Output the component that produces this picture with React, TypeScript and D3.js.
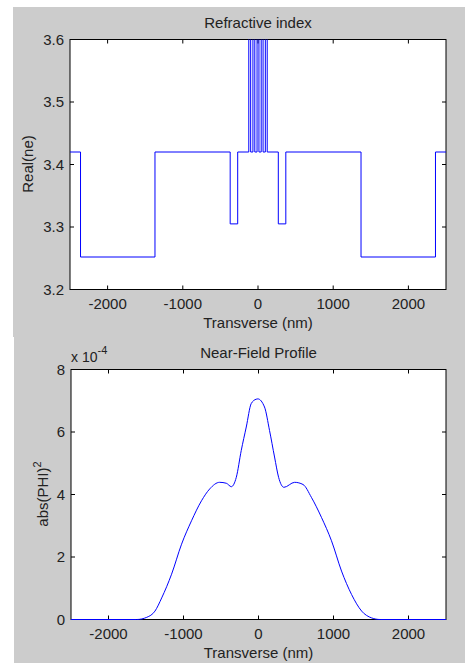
import React, { useRef, useEffect } from 'react';
import * as d3 from 'd3';

// shared x ticks (nm)
const xTicks = [-2000, -1000, 0, 1000, 2000];
const indexTicks = [3.2, 3.3, 3.4, 3.5, 3.6];
const fieldTicks = [0, 2, 4, 6, 8];

// refractive index layers: start position (nm) and value
const layerStart = [-2500, -2360, -1370, -370, -270, -122.5, -97.5, -67.5, -42.5, -12.5, 12.5, 42.5, 67.5, 97.5, 122.5, 270, 370, 1370, 2360, 2500];
const layerIndex = [3.42, 3.252, 3.42, 3.305, 3.42, 3.7, 3.42, 3.7, 3.42, 3.7, 3.42, 3.7, 3.42, 3.7, 3.42, 3.305, 3.42, 3.252, 3.42, 3.42];

// near field |phi|^2 in units of 1e-4
const fieldX = [-2500, -1623, -1490, -1380, -1291, -1159, -1026, -893, -760, -650, -518, -429, -362, -296, -230, -163, -97, -31, -9, 80, 147, 214, 268, 339, 482, 594, 705, 839, 973, 1107, 1241, 1375, 1509, 1621, 2500];
const fieldY = [0, 0, 0.07, 0.27, 0.69, 1.45, 2.41, 3.16, 3.8, 4.18, 4.39, 4.36, 4.25, 4.55, 5.41, 6.16, 6.91, 7.05, 7.06, 6.8, 6.05, 5.2, 4.55, 4.23, 4.39, 4.32, 3.91, 3.27, 2.52, 1.55, 0.8, 0.27, 0.05, 0, 0];

const FONT = '"Liberation Sans", Arial, sans-serif';

function drawPanel(svg, opts) {
  const { left, right, top, bottom, yDomain, yTicks, yFmt, title, id, clipPad } = opts;
  const x = d3.scaleLinear().domain([-2500, 2500]).range([left, right]);
  const y = d3.scaleLinear().domain(yDomain).range([bottom, top]);

  svg.append('rect')
    .attr('x', left).attr('y', top)
    .attr('width', right - left).attr('height', bottom - top)
    .attr('fill', '#fff');

  svg.append('clipPath').attr('id', id)
    .append('rect')
    .attr('x', left).attr('y', top)
    .attr('width', right - left).attr('height', bottom - top + clipPad);

  const g = svg.append('g');
  // inward ticks on all four sides
  xTicks.forEach((t) => {
    g.append('line').attr('x1', x(t)).attr('x2', x(t)).attr('y1', bottom).attr('y2', bottom - 4).attr('stroke', '#000');
    g.append('line').attr('x1', x(t)).attr('x2', x(t)).attr('y1', top).attr('y2', top + 4).attr('stroke', '#000');
    g.append('text').attr('x', x(t)).attr('y', bottom + 19)
      .attr('text-anchor', 'middle').attr('font-size', 15).attr('font-family', FONT).attr('fill', '#222')
      .text(t);
  });
  yTicks.forEach((t) => {
    g.append('line').attr('x1', left).attr('x2', left + 4).attr('y1', y(t)).attr('y2', y(t)).attr('stroke', '#000');
    g.append('line').attr('x1', right).attr('x2', right - 4).attr('y1', y(t)).attr('y2', y(t)).attr('stroke', '#000');
    g.append('text').attr('x', left - 6).attr('y', y(t) + 5)
      .attr('text-anchor', 'end').attr('font-size', 15).attr('font-family', FONT).attr('fill', '#222')
      .text(yFmt(t));
  });

  g.append('text').attr('x', (left + right) / 2).attr('y', top - 12)
    .attr('text-anchor', 'middle').attr('font-size', 15).attr('font-family', FONT).attr('fill', '#222')
    .text(title);
  g.append('text').attr('x', (left + right) / 2).attr('y', bottom + 38)
    .attr('text-anchor', 'middle').attr('font-size', 15).attr('font-family', FONT).attr('fill', '#222')
    .text('Transverse (nm)');

  g.append('rect').attr('x', left).attr('y', top).attr('width', right - left).attr('height', bottom - top)
    .attr('fill', 'none').attr('stroke', '#000').attr('stroke-width', 1);

  return { x, y, g };
}

function App() {
  const ref = useRef();

  useEffect(() => {
    const svg = d3.select(ref.current);
    svg.selectAll('*').remove();

    svg.append('rect').attr('x', 13).attr('y', 7).attr('width', 452).attr('height', 330).attr('fill', '#cccccc');
    svg.append('rect').attr('x', 14).attr('y', 337).attr('width', 451).attr('height', 326).attr('fill', '#cccccc');

    // top: refractive index
    const p1 = drawPanel(svg, {
      left: 70, right: 446, top: 39.5, bottom: 289.5,
      yDomain: [3.2, 3.6], yTicks: indexTicks, yFmt: d3.format('.1f'),
      title: 'Refractive index', id: 'clipTop', clipPad: 0,
    });
    p1.g.append('text')
      .attr('transform', 'translate(33,164) rotate(-90)')
      .attr('text-anchor', 'middle').attr('font-size', 15).attr('font-family', FONT).attr('fill', '#222')
      .text('Real(ne)');
    const step = d3.line().x((d) => p1.x(d[0])).y((d) => p1.y(d[1])).curve(d3.curveStepAfter);
    svg.append('path')
      .attr('d', step(layerStart.map((s, i) => [s, layerIndex[i]])))
      .attr('fill', 'none').attr('stroke', '#0000ff').attr('stroke-width', 1)
      .attr('clip-path', 'url(#clipTop)');

    // bottom: near-field profile
    const p2 = drawPanel(svg, {
      left: 71, right: 446, top: 369.5, bottom: 619.5,
      yDomain: [0, 8], yTicks: fieldTicks, yFmt: (d) => String(d),
      title: 'Near-Field Profile', id: 'clipBottom', clipPad: 1,
    });
    const lbl = p2.g.append('text')
      .attr('transform', 'translate(48,494) rotate(-90)')
      .attr('text-anchor', 'middle').attr('font-size', 15).attr('font-family', FONT).attr('fill', '#222');
    lbl.append('tspan').text('abs(PHI)');
    lbl.append('tspan').attr('dy', -7).attr('font-size', 11).text('2');
    const mult = p2.g.append('text').attr('x', 71).attr('y', 362)
      .attr('font-size', 14).attr('font-family', FONT).attr('fill', '#222');
    mult.append('tspan').text('x 10');
    mult.append('tspan').attr('dy', -8).attr('font-size', 11).text('-4');

    const curve = d3.line().x((d) => p2.x(d[0])).y((d) => p2.y(d[1])).curve(d3.curveMonotoneX);
    svg.append('path')
      .attr('d', curve(fieldX.map((v, i) => [v, fieldY[i]])))
      .attr('fill', 'none').attr('stroke', '#0000ff').attr('stroke-width', 1)
      .attr('clip-path', 'url(#clipBottom)');
  }, []);

  return (
    <svg ref={ref} width={465} height={663}
      style={{ position: 'absolute', left: 0, top: 0, background: '#fff' }} />
  );
}

export default App;
